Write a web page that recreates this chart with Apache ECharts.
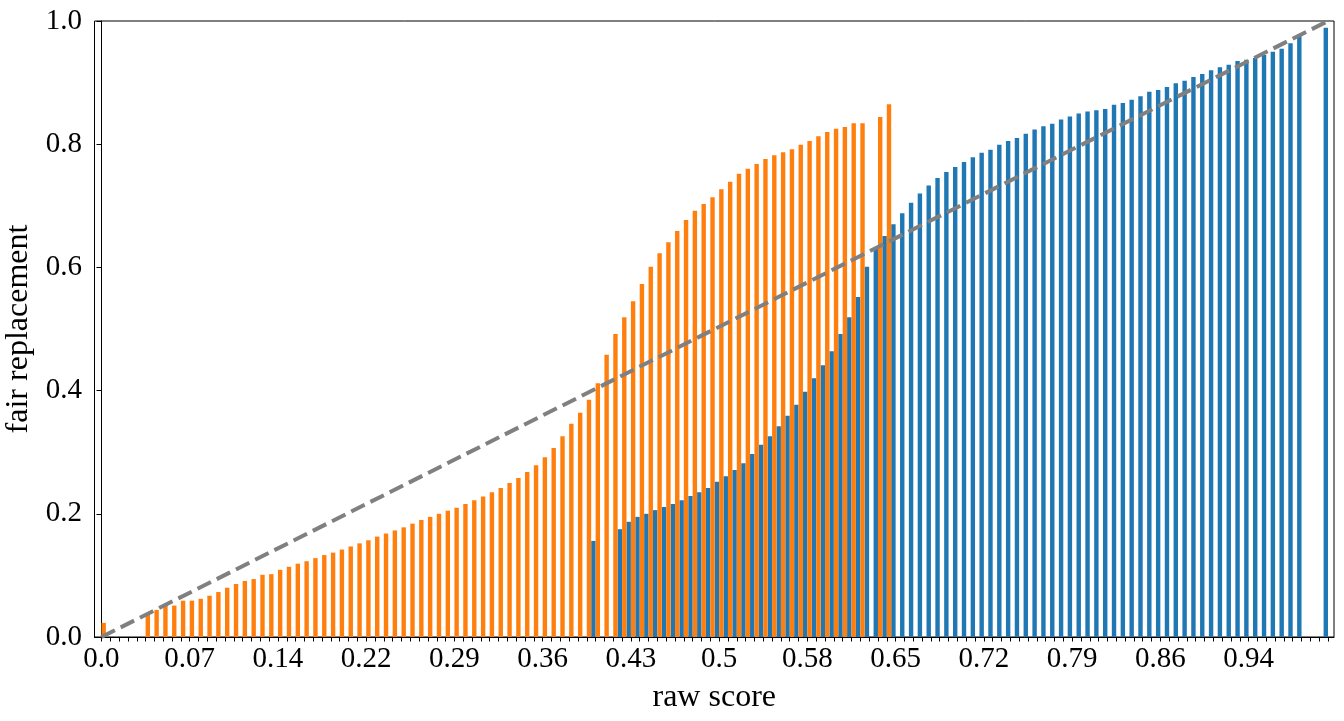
<!DOCTYPE html>
<html>
<head>
<meta charset="utf-8">
<script src="https://cdn.jsdelivr.net/npm/echarts@6.0.0/dist/echarts.min.js"></script>
<style>
html,body{margin:0;padding:0;background:#fff;}
#chart{width:1344px;height:721px;}
</style>
</head>
<body>
<div id="chart"></div>
<script>
// x-axis: 140 raw-score bins (index 0..139); labels every 10th bin
const tickLabels = ["0.0","0.07","0.14","0.22","0.29","0.36","0.43","0.5","0.58","0.65","0.72","0.79","0.86","0.94"];
const labelIdx = [0,10,20,30,40,50,60,70,80,90,100,110,120,130];

// orange series (index -> value), null = no bar
const orangeVals = [
0.023,null,null,null,null,0.036,0.044,0.051,0.051,0.059,
0.059,0.062,0.067,0.073,0.080,0.086,0.091,0.094,0.101,0.102,
0.109,0.114,0.119,0.123,0.128,0.133,0.137,0.142,0.147,0.152,
0.157,0.163,0.168,0.173,0.178,0.184,0.190,0.195,0.200,0.205,
0.210,0.216,0.222,0.228,0.235,0.242,0.250,0.258,0.268,0.279,
0.292,0.307,0.326,0.346,0.364,0.385,0.412,0.458,0.492,0.519,
0.545,0.573,0.601,0.623,0.641,0.659,0.677,0.692,0.703,0.714,
0.727,0.739,0.752,0.760,0.768,0.776,0.782,0.787,0.792,0.799,
0.805,0.813,0.820,0.825,0.828,0.834,0.834,null,0.844,0.865,
null,null,null,null,null,null,null,null,null,null,
null,null,null,null,null,null,null,null,null,null,
null,null,null,null,null,null,null,null,null,null,
null,null,null,null,null,null,null,null,null,null,
null,null,null,null,null,null,null,null,null,null
];

// blue series (index -> value), null = no bar
const blueVals = [
null,null,null,null,null,null,null,null,null,null,
null,null,null,null,null,null,null,null,null,null,
null,null,null,null,null,null,null,null,null,null,
null,null,null,null,null,null,null,null,null,null,
null,null,null,null,null,null,null,null,null,null,
null,null,null,null,null,null,0.156,null,null,0.175,
0.187,0.195,0.200,0.206,0.211,0.216,0.222,0.229,0.235,0.242,
0.252,0.261,0.271,0.282,0.297,0.312,0.326,0.342,0.359,0.377,
0.398,0.420,0.441,0.464,0.492,0.519,0.552,0.601,0.630,0.651,
0.670,0.688,0.705,0.720,0.733,0.745,0.755,0.763,0.771,0.779,
0.786,0.791,0.799,0.805,0.810,0.817,0.824,0.829,0.833,0.840,
0.845,0.850,0.853,0.855,0.857,0.864,0.867,0.872,0.878,0.885,
0.888,0.893,0.899,0.903,0.909,0.914,0.920,0.925,0.929,0.935,
0.937,0.940,0.945,0.950,0.955,0.964,0.976,null,null,0.989
];

// reference diagonal (fair line), endpoints in (bin index, value)
const diagLine = [[0,0],[139,1]];

const FONT = "Liberation Serif";
const toPairs = arr => arr.map((v,i)=> v==null ? null : [i,v]).filter(p=>p!==null);
const allIdx = blueVals.map((_,i)=>i);

const chart = echarts.init(document.getElementById('chart'), null, {renderer:'canvas'});
chart.setOption({
  animation:false,
  backgroundColor:'#fff',
  textStyle:{fontFamily:FONT, color:'#000'},
  grid:{left:94.5, right:10, top:21, bottom:84, containLabel:false, outerBoundsMode:'none',
        show:true, borderColor:'#000', borderWidth:1, backgroundColor:'transparent'},
  xAxis:{
    type:'value', min:-0.79, max:139.68,
    name:'raw score', nameLocation:'middle', nameGap:45,
    nameTextStyle:{fontFamily:FONT, fontSize:32, color:'#000'},
    axisLine:{show:true, onZero:false, lineStyle:{color:'#000', width:1}},
    axisTick:{show:true, inside:false, length:4.5, customValues:allIdx, lineStyle:{color:'#000', width:1}},
    axisLabel:{show:true, customValues:labelIdx, margin:8, fontFamily:FONT, fontSize:29, color:'#000',
      formatter:v=>{const k=labelIdx.indexOf(v); return k>=0?tickLabels[k]:'';}},
    splitLine:{show:false}
  },
  yAxis:{
    type:'value', min:0, max:1, interval:0.2,
    name:'fair replacement', nameLocation:'middle', nameGap:50,
    nameTextStyle:{fontFamily:FONT, fontSize:32, color:'#000'},
    axisLine:{show:true, lineStyle:{color:'#000', width:1}},
    axisTick:{show:true, inside:false, length:5, lineStyle:{color:'#000', width:1}},
    axisLabel:{margin:12.5, fontFamily:FONT, fontSize:29, color:'#000', formatter:v=>v.toFixed(1)},
    splitLine:{show:false}
  },
  series:[
    {type:'bar', name:'blue', data:toPairs(blueVals), barWidth:4.4, barGap:'0%',
     itemStyle:{color:'#1f77b4'}, z:2},
    {type:'bar', name:'orange', data:toPairs(orangeVals), barWidth:4.4, barGap:'0%',
     itemStyle:{color:'#ff7f0e'}, z:2},
    {type:'line', name:'fair', data:diagLine, symbol:'none', silent:true, z:5,
     lineStyle:{color:'#808080', width:4, type:[15,6.5], cap:'butt'}}
  ]
});
</script>
</body>
</html>
